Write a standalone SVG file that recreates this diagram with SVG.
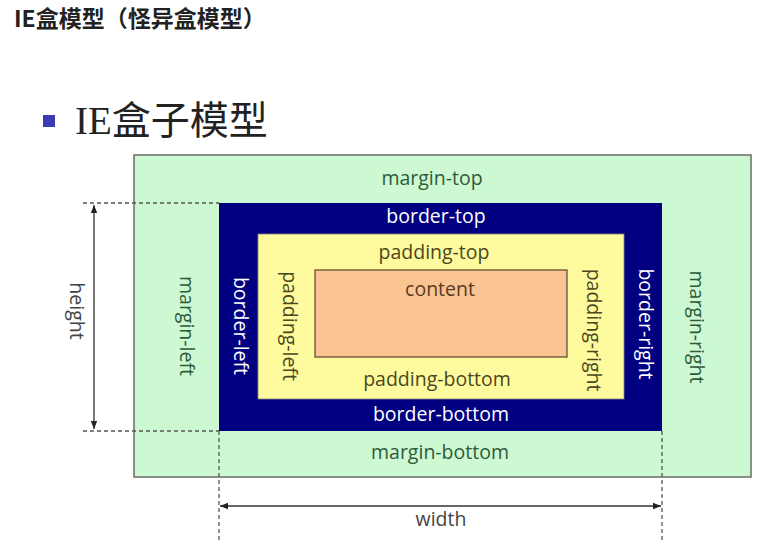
<svg xmlns="http://www.w3.org/2000/svg" width="779" height="542" viewBox="0 0 779 542">
<style>
.lbl{font-family:"Open Sans","Liberation Sans",sans-serif;font-size:19.5px;text-anchor:middle}
.m{fill:#2f5a3a}
.b{fill:#ffffff}
.p{fill:#4a4820}
.c{fill:#5a3a22}
.dim{fill:#444}
.dash{stroke:#555;stroke-width:1.3;stroke-dasharray:4 3;fill:none}
.arr{stroke:#333;stroke-width:1.3;fill:none}
</style>
<defs>
<marker id="ah" viewBox="0 0 10 10" refX="10" refY="5" markerWidth="8" markerHeight="8" orient="auto-start-reverse" markerUnits="userSpaceOnUse">
<path d="M0,1 L10,5 L0,9 z" fill="#222"/>
</marker>
</defs>
<rect width="779" height="542" fill="#ffffff"/>
<g id="title">
<text x="14" y="27" font-family="'Noto Sans CJK SC',sans-serif" font-weight="bold" font-size="23" fill="#222">IE盒模型（怪异盒模型）</text>
</g>
<g id="heading">
<rect x="43" y="115" width="12" height="12" fill="#3b3bb3"/>
<text x="75" y="134" font-family="'Liberation Serif','Noto Sans CJK SC',serif" font-size="39" fill="#222">IE<tspan font-family="'Noto Sans CJK SC',sans-serif" font-weight="normal">盒子模型</tspan></text>
</g>
<g id="margin">
<rect x="134" y="155" width="617" height="322" fill="#ccf9d2" stroke="#6a6a6a" stroke-width="1.5"/>
<text class="lbl m" x="432" y="185">margin-top</text>
<text class="lbl m" x="440" y="459">margin-bottom</text>
<text class="lbl m" transform="translate(180,326) rotate(90)">margin-left</text>
<text class="lbl m" transform="translate(690,327) rotate(90)">margin-right</text>
</g>
<g id="border">
<rect x="219" y="203" width="443" height="228" fill="#000080"/>
<text class="lbl b" x="436" y="223">border-top</text>
<text class="lbl b" x="441" y="421">border-bottom</text>
<text class="lbl b" transform="translate(234,326) rotate(90)">border-left</text>
<text class="lbl b" transform="translate(639,324) rotate(90)">border-right</text>
</g>
<g id="padding">
<rect x="258" y="234" width="366" height="165" fill="#fdfb9e" stroke="#888" stroke-width="0.8"/>
<text class="lbl p" x="434" y="259">padding-top</text>
<text class="lbl p" x="437" y="386">padding-bottom</text>
<text class="lbl p" transform="translate(283,326) rotate(90)">padding-left</text>
<text class="lbl p" transform="translate(587,330) rotate(90)">padding-right</text>
</g>
<g id="content">
<rect x="315" y="270" width="252" height="87" fill="#fac493" stroke="#5a4530" stroke-width="1.2"/>
<text class="lbl c" x="440" y="296">content</text>
</g>
<g id="connectors">
<path class="dash" d="M83,203 H219"/>
<path class="dash" d="M83,431 H219"/>
<path class="dash" d="M219,431 V542"/>
<path class="dash" d="M662,431 V542"/>
<path class="arr" d="M94,205 V429" marker-start="url(#ah)" marker-end="url(#ah)"/>
<path class="arr" d="M220,506 H661" marker-start="url(#ah)" marker-end="url(#ah)"/>
</g>
<g id="dims">
<text class="lbl dim" transform="translate(70,311) rotate(90)">height</text>
<text class="lbl dim" x="441" y="526">width</text>
</g>
</svg>
